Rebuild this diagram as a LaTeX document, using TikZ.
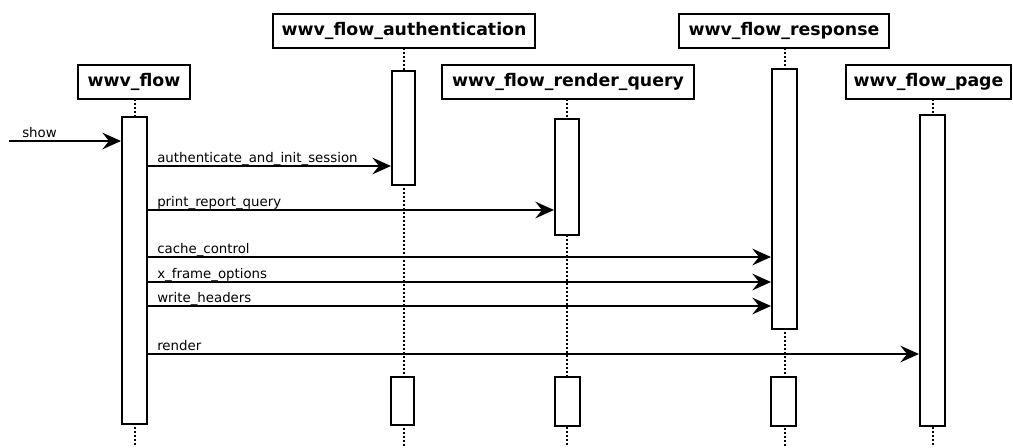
\documentclass[tikz,border=0pt]{standalone}
\usepackage{fontspec}
\setmainfont{DejaVu Sans}
\usetikzlibrary{arrows.meta,fit}
\begin{document}
\begin{tikzpicture}[x=0.75pt,y=-0.75pt,
  titlebox/.style={draw,line width=1.5pt,inner sep=0pt,minimum height=25.5pt,font=\fontsize{13}{15}\selectfont\bfseries},
  bar/.style={draw,line width=1.5pt,fill=white,inner sep=0pt},
  life/.style={line width=1.5pt,dash pattern=on 1.5pt off 1.5pt},
  msg/.style={line width=1.6pt,-{Stealth[length=14pt,width=12.5pt,inset=5pt]}},
  lbl/.style={anchor=base west,inner sep=0pt,font=\fontsize{10}{12}\selectfont}]
\useasboundingbox (0,0) rectangle (1013,447);
% title boxes
\node[titlebox,minimum width=84pt] (t1) at (134,82) {wwv\_flow};
\node[titlebox,minimum width=196.5pt] (t2) at (404,31) {wwv\_flow\_authentication};
\node[titlebox,minimum width=189pt] (t3) at (568,82) {wwv\_flow\_render\_query};
\node[titlebox,minimum width=157.5pt] (t4) at (784,31) {wwv\_flow\_response};
\node[titlebox,minimum width=123.75pt] (t5) at (928.5,82) {wwv\_flow\_page};
% lifelines (drawn first)
\draw[life] (134.5,99) -- (134.5,447);
\draw[life] (403.5,48) -- (403.5,447);
\draw[life] (567,99) -- (567,447);
\draw[life] (784.5,48) -- (784.5,447);
\draw[life] (932.5,99) -- (932.5,447);
% activation bars
\node[bar,fit={(122,117)(147,424)}] (b1) {};
\node[bar,fit={(392,71)(415,185)}] (b2) {};
\node[bar,fit={(555,119)(579,235)}] (b3) {};
\node[bar,fit={(772,69)(797,329)}] (b4) {};
\node[bar,fit={(920,115)(945,426)}] (b5) {};
\node[bar,fit={(391,377)(414,425)}] (c2) {};
\node[bar,fit={(555,377)(580,426)}] (c3) {};
\node[bar,fit={(771,377)(796,426)}] (c4) {};
% message levels
\coordinate (s0) at (9,141);
\coordinate (y1) at (0,166);
\coordinate (y2) at (0,210);
\coordinate (y3) at (0,257);
\coordinate (y4) at (0,282);
\coordinate (y5) at (0,306);
\coordinate (y6) at (0,354);
% messages
\draw[msg] (s0) -- (b1.west |- s0);
\node[lbl] at (22,137) {show};
\draw[msg] (b1.east |- y1) -- (b2.west |- y1);
\node[lbl] at (157,162) {authenticate\_and\_init\_session};
\draw[msg] (b1.east |- y2) -- (b3.west |- y2);
\node[lbl] at (157,206) {print\_report\_query};
\draw[msg] (b1.east |- y3) -- (b4.west |- y3);
\node[lbl] at (157,253) {cache\_control};
\draw[msg] (b1.east |- y4) -- (b4.west |- y4);
\node[lbl] at (157,278) {x\_frame\_options};
\draw[msg] (b1.east |- y5) -- (b4.west |- y5);
\node[lbl] at (157,302) {write\_headers};
\draw[msg] (b1.east |- y6) -- (b5.west |- y6);
\node[lbl] at (157,350) {render};
\end{tikzpicture}
\end{document}
